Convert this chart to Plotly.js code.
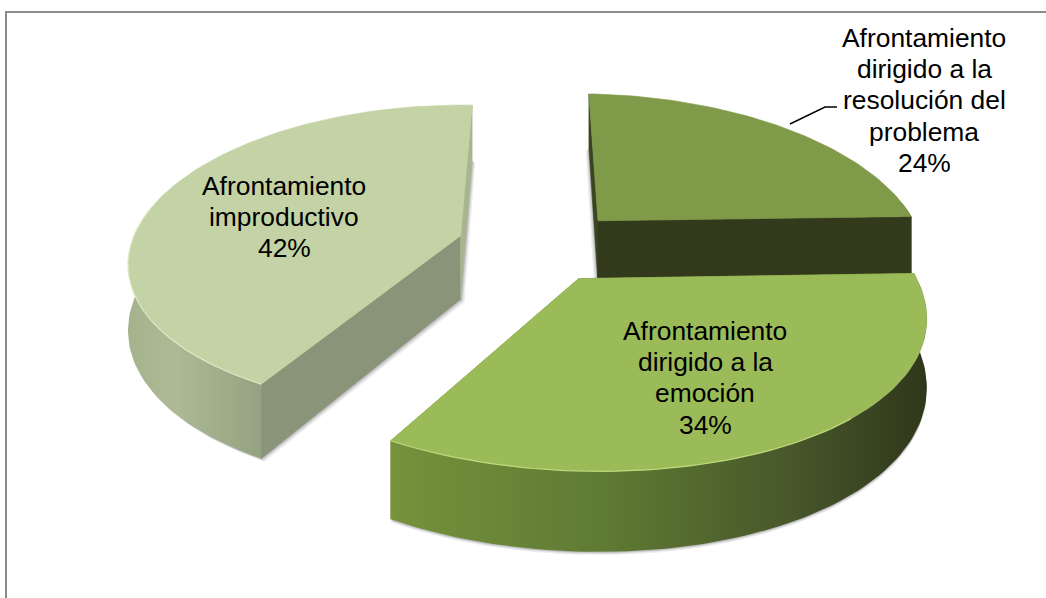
<!DOCTYPE html>
<html>
<head>
<meta charset="utf-8">
<script src="https://cdn.plot.ly/plotly-3.0.1.min.js"></script>
<style>html,body{margin:0;padding:0;background:#fff}#chart{width:1046px;height:598px}</style>
</head>
<body>
<div id="chart"></div>
<script>
// Data
const sliceNames = ["Afrontamiento dirigido a la resolución del problema", "Afrontamiento dirigido a la emoción", "Afrontamiento improductivo"];
const sliceValues = [24, 34, 42];
const labelLines = [
  ["Afrontamiento", "dirigido a la", "resolución del", "problema", "24%"],
  ["Afrontamiento", "dirigido a la", "emoción", "34%"],
  ["Afrontamiento", "improductivo", "42%"]
];
const labelCentres = [[924, 38], [705, 331], [284, 186]];
const labelLeading = 31.2;
const topColours = ["#7f9a48", "#9bbb59", "#c3d3a6"];
const radialColours = [["#3a4520", "#333a1c"], ["#76923c", "#76923c"], ["#8a9478", "#a8b58e"]];
const outerGradients = [
  [[0, "#333a1c"], [1, "#333a1c"]],
  [[0, "#76923c"], [0.4, "#5f7a33"], [0.75, "#47572a"], [1, "#2f371a"]],
  [[0, "#a5b38d"], [0.35, "#adba95"], [1, "#95a281"]]
];
const highlightColours = [null, "#c8e383", "#e3efc9"];
const highlightStart = [0, 0.42, 0];
const sliceNudge = [9, -2, -1];
const explode = 0.24, drawOrder = [0, 2, 1];

// Oblique perspective of the pie plane, in page pixels
const cx = 537, cy = 246, A = 328, B = 153, C = 64, k = 0.15, kx = 0.18, kz = 0.17, shear = 0.015;
function project(X, Y, Z) {
  const px = A * X / (1 + kx * Y);
  return [cx + px, cy - B * Y / (1 + k * Y) - C * Z / (1 + kz * Y) + shear * px];
}
const toXY = pts => ({x: pts.map(p => p[0]), y: pts.map(p => p[1])});

const total = sliceValues.reduce((a, b) => a + b, 0);
let acc = 0;
const wedges = sliceValues.map((v, i) => {
  const a0 = acc / total * 2 * Math.PI; acc += v;
  const a1 = acc / total * 2 * Math.PI, mid = (a0 + a1) / 2;
  return {a0, a1, ox: explode * Math.sin(mid) + sliceNudge[i] / A, oy: explode * Math.cos(mid)};
});
function rim(w, from, to, Z) {
  const n = Math.max(2, Math.ceil(Math.abs(to - from) * 40)), out = [];
  for (let i = 0; i <= n; i++) {
    const t = from + (to - from) * i / n;
    out.push(project(w.ox + Math.sin(t), w.oy + Math.cos(t), Z));
  }
  return out;
}
function poly(pts, colour, extra) {
  const d = toXY(pts.concat([pts[0]]));
  return Object.assign({type: "scatter", mode: "lines", x: d.x, y: d.y, fill: "toself", fillcolor: colour,
    line: {width: 0.6, color: colour}, hoverinfo: "skip", showlegend: false}, extra || {});
}
function radial(w, a, colour) {
  const ap = project(w.ox, w.oy, 0), ab = project(w.ox, w.oy, -1);
  const e = project(w.ox + Math.sin(a), w.oy + Math.cos(a), 0), eb = project(w.ox + Math.sin(a), w.oy + Math.cos(a), -1);
  return poly([ap, e, eb, ab], colour);
}
const traces = [];
// soft contact shadows
drawOrder.forEach(i => {
  const w = wedges[i];
  [[4, 0.10], [2.5, 0.16], [1.2, 0.22]].forEach(([d, op]) => {
    const sx = (i === 2 ? d : (i === 0 ? -d : 0));
    const bot = rim(w, w.a0, w.a1, -1).map(p => [p[0] + sx * 0.8, p[1] + d * 0.8]);
    const ab = project(w.ox, w.oy, -1);
    traces.push(poly(bot.concat([[ab[0] + sx, ab[1] + d * 0.8]]), "rgba(90,90,95," + op + ")", {line: {width: 0}}));
  });
});
drawOrder.forEach(i => {
  const w = wedges[i];
  traces.push(radial(w, w.a0, radialColours[i][0]));
  traces.push(radial(w, w.a1, radialColours[i][1]));
  // outer wall: front-facing part of the rim
  const from = Math.max(w.a0, Math.PI * 0.45), to = Math.min(w.a1, Math.PI * 1.55);
  if (to > from) {
    const topEdge = rim(w, from, to, 0), botEdge = rim(w, to, from, -1);
    traces.push(poly(topEdge.concat(botEdge), outerGradients[i][0][1], {
      fillgradient: {type: "horizontal", colorscale: outerGradients[i]},
      line: {width: 0}
    }));
  }
  // top face
  const ap = project(w.ox, w.oy, 0);
  traces.push(poly([ap].concat(rim(w, w.a0, w.a1, 0)), topColours[i], {name: sliceNames[i]}));
  if (highlightColours[i]) {
    const hs = from + (to - from) * highlightStart[i];
    const hl = toXY(rim(w, hs, to, 0));
    traces.push({type: "scatter", mode: "lines", x: hl.x, y: hl.y, line: {width: 1.2, color: highlightColours[i]}, opacity: 0.8, hoverinfo: "skip", showlegend: false});
  }
});

const annotations = [];
labelLines.forEach((lines, i) => {
  lines.forEach((t, j) => annotations.push({
    x: labelCentres[i][0], y: labelCentres[i][1] + j * labelLeading, xref: "x", yref: "y",
    text: t, showarrow: false, xanchor: "center", yanchor: "middle",
    font: {family: "Liberation Sans, Arial, sans-serif", size: 26.4, color: "#000"}
  }));
});

const layout = {
  width: 1046, height: 598, margin: {l: 0, r: 0, t: 0, b: 0},
  paper_bgcolor: "#fff", plot_bgcolor: "#fff", showlegend: false,
  xaxis: {range: [0, 1046], visible: false, fixedrange: true},
  yaxis: {range: [598, 0], visible: false, fixedrange: true},
  annotations,
  shapes: [
    {type: "rect", xref: "x", yref: "y", x0: 6, y0: 12, x1: 1070, y1: 620, line: {color: "#8c8c8c", width: 2}, layer: "below"},
    {type: "path", xref: "x", yref: "y", path: "M 790 124 L 825 107 L 837 107", line: {color: "#000", width: 1.4}}
  ]
};
Plotly.newPlot("chart", traces, layout, {staticPlot: true, displayModeBar: false});
</script>
</body>
</html>
